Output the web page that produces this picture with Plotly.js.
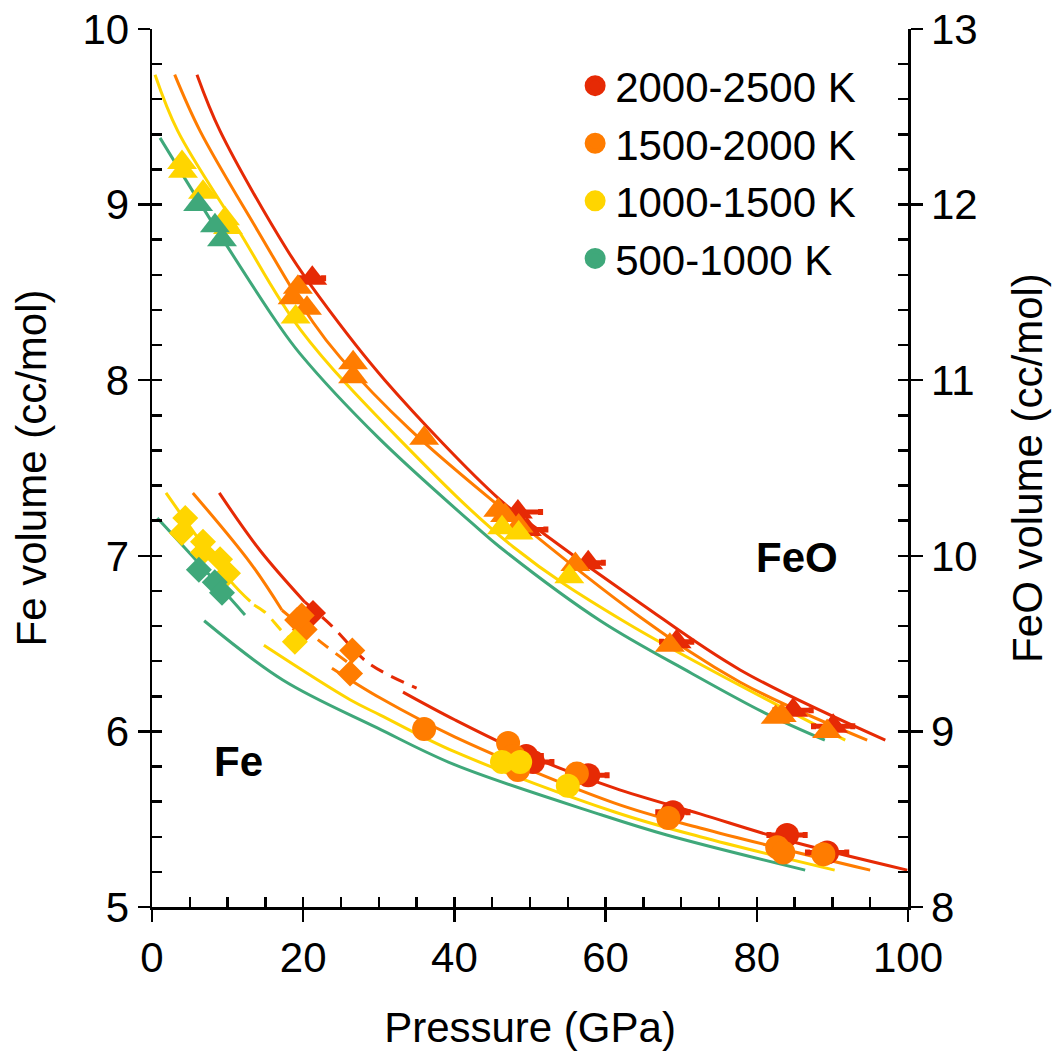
<!DOCTYPE html>
<html><head><meta charset="utf-8">
<script src="https://cdn.plot.ly/plotly-3.0.1.min.js"></script>
<style>html,body{margin:0;padding:0;background:#fff}</style>
</head><body>
<div id="chart" style="width:1055px;height:1063px"></div>
<script>
// ---- labels ----
const tempLabels = ['2000-2500 K', '1500-2000 K', '1000-1500 K', '500-1000 K'];
const xTitle = 'Pressure (GPa)';
const yTitle = 'Fe volume (cc/mol)';
const y2Title = 'FeO volume (cc/mol)';

// ---- FeO isotherms (P GPa, V cc/mol) ----
const feoCurveRedP = [5.95, 9.0, 17.9, 22.2, 30.8, 46.0, 52.0, 64.6, 77.8, 97.0];
const feoCurveRedV = [12.74, 12.42, 11.74, 11.47, 11.0, 10.32, 10.12, 9.73, 9.35, 8.95];
const feoCurveOrangeP = [3.0, 6.35, 14.0, 21.3, 24.9, 34.1, 46.0, 64.6, 77.8, 94.6];
const feoCurveOrangeV = [12.74, 12.42, 11.85, 11.33, 11.13, 10.72, 10.28, 9.65, 9.28, 8.95];
const feoCurveYellowP = [0.4, 3.4, 11.5, 19.6, 32.8, 47.8, 62.3, 91.7];
const feoCurveYellowV = [12.74, 12.42, 11.85, 11.29, 10.66, 10.05, 9.63, 8.95];
const feoCurveGreenP = [1.06, 3.9, 9.4, 16.5, 19.6, 30.0, 43.0, 46.0, 59.3, 71.4, 81.3, 89.0];
const feoCurveGreenV = [12.38, 12.18, 11.80, 11.33, 11.15, 10.67, 10.16, 10.05, 9.63, 9.33, 9.10, 8.95];

// ---- Fe isotherms ----
const feCurveRedLowP = [8.9, 14.3, 20.2];
const feCurveRedLowV = [7.358, 7.03, 6.737];
const feCurveRedDashP = [20.2, 23.8, 28.6, 35.0];
const feCurveRedDashV = [6.737, 6.60, 6.39, 6.247];
const feCurveRedHighP = [33.2, 40.1, 50.0, 61.2, 72.5, 84.0, 99.9];
const feCurveRedHighV = [6.224, 6.065, 5.86, 5.677, 5.53, 5.38, 5.21];
const feCurveOrangeLowP = [5.4, 13.0, 17.2];
const feCurveOrangeLowV = [7.358, 6.96, 6.69];
const feCurveOrangeDashP = [17.2, 22.6, 26.0];
const feCurveOrangeDashV = [6.69, 6.50, 6.39];
const feCurveOrangeHighP = [23.8, 30.2, 40.1, 61.2, 72.5, 95.0];
const feCurveOrangeHighV = [6.36, 6.19, 5.968, 5.592, 5.45, 5.21];
const feCurveYellowLowP = [1.85, 10.3, 13.0];
const feCurveYellowLowV = [7.358, 6.86, 6.74];
const feCurveYellowDashP = [13.5, 14.9, 17.3, 18.5];
const feCurveYellowDashV = [6.72, 6.68, 6.566, 6.52];
const feCurveYellowHighP = [14.8, 26.2, 30.2, 40.1, 61.2, 72.5, 90.3];
const feCurveYellowHighV = [6.49, 6.18, 6.093, 5.883, 5.541, 5.40, 5.21];
const feCurveGreenLowP = [0.7, 6.35, 12.3];
const feCurveGreenLowV = [7.215, 6.95, 6.663];
const feCurveGreenHighP = [6.9, 17.3, 29.8, 40.1, 59.5, 68.1, 86.4];
const feCurveGreenHighV = [6.63, 6.293, 6.02, 5.809, 5.524, 5.41, 5.21];

// ---- FeO measurements (triangles) ----
const feoRedP = [21.2, 48.4, 49.6, 57.7, 69.4, 84.8, 90.1];
const feoRedV = [11.58, 10.25, 10.15, 9.96, 9.51, 9.12, 9.03];
const feoRedErrP = [1.5, 3.0, 2.5, 2.0, 2.0, 2.4, 2.6];
const feoOrangeP = [18.6, 19.3, 20.5, 26.6, 26.6, 36.0, 45.8, 46.7, 48.5, 56.0, 68.5, 82.5, 83.3, 89.3];
const feoOrangeV = [11.47, 11.53, 11.41, 11.10, 11.02, 10.67, 10.26, 10.23, 10.17, 9.95, 9.49, 9.08, 9.09, 9.00];
const feoYellowP = [3.97, 4.1, 6.75, 9.66, 10.05, 19.0, 46.3, 48.5, 55.2];
const feoYellowV = [12.24, 12.19, 12.07, 11.92, 11.87, 11.36, 10.16, 10.13, 9.88];
const feoGreenP = [6.1, 8.33, 9.26];
const feoGreenV = [12.0, 11.88, 11.80];

// ---- Fe measurements: low-P phase (diamonds) ----
const feDiaRedP = [21.3];
const feDiaRedV = [6.674];
const feDiaOrangeP = [19.2, 20.2, 19.8, 26.5, 26.2];
const feDiaOrangeV = [6.634, 6.58, 6.66, 6.46, 6.33];
const feDiaYellowP = [3.95, 4.4, 6.75, 6.75, 9.0, 10.05, 18.9];
const feDiaYellowV = [7.13, 7.215, 7.08, 7.02, 6.98, 6.90, 6.51];
const feDiaGreenP = [6.2, 8.3, 9.26];
const feDiaGreenV = [6.92, 6.85, 6.79];

// ---- Fe measurements: hcp (circles) ----
const feCirRedP = [49.5, 50.4, 57.7, 68.9, 84.0, 89.3];
const feCirRedV = [5.86, 5.826, 5.75, 5.54, 5.41, 5.31];
const feCirRedErrP = [2.0, 2.5, 2.5, 2.0, 2.4, 2.6];
const feCirOrangeP = [36.0, 47.1, 47.8, 48.4, 56.2, 68.3, 82.7, 83.5, 88.8];
const feCirOrangeV = [6.014, 5.934, 5.86, 5.78, 5.76, 5.507, 5.34, 5.31, 5.30];
const feCirYellowP = [46.3, 48.7, 55.0];
const feCirYellowV = [5.826, 5.826, 5.69];

// ---- styles ----
const C = {red: '#E62A05', orange: '#FF7C00', yellow: '#FFD500', green: '#3FA87A'};
const FONT = 'Liberation Sans, Arial, sans-serif';

function curve(P, V, color, yax, dash) {
  return {x: P, y: V, type: 'scatter', mode: 'lines', yaxis: yax,
    line: {color: color, width: 3, shape: 'spline', smoothing: 1, dash: dash || 'solid'},
    showlegend: false, hoverinfo: 'skip'};
}
function marks(P, V, color, symbol, size, yax, errP) {
  const t = {x: P, y: V, type: 'scatter', mode: 'markers', yaxis: yax,
    marker: {color: color, symbol: symbol, size: size, line: {width: 0}},
    showlegend: false, hoverinfo: 'skip'};
  if (errP) t.error_x = {type: 'data', array: errP, visible: true, color: color, thickness: 5, width: 3};
  return t;
}
const DASH = '14px,9px';
const traces = [
  curve(feoCurveRedP, feoCurveRedV, C.red, 'y2'),
  curve(feoCurveOrangeP, feoCurveOrangeV, C.orange, 'y2'),
  curve(feoCurveYellowP, feoCurveYellowV, C.yellow, 'y2'),
  curve(feoCurveGreenP, feoCurveGreenV, C.green, 'y2'),
  curve(feCurveRedLowP, feCurveRedLowV, C.red, 'y'),
  curve(feCurveRedDashP, feCurveRedDashV, C.red, 'y', DASH),
  curve(feCurveRedHighP, feCurveRedHighV, C.red, 'y'),
  curve(feCurveOrangeLowP, feCurveOrangeLowV, C.orange, 'y'),
  curve(feCurveOrangeDashP, feCurveOrangeDashV, C.orange, 'y', DASH),
  curve(feCurveOrangeHighP, feCurveOrangeHighV, C.orange, 'y'),
  curve(feCurveYellowLowP, feCurveYellowLowV, C.yellow, 'y'),
  curve(feCurveYellowDashP, feCurveYellowDashV, C.yellow, 'y', DASH),
  curve(feCurveYellowHighP, feCurveYellowHighV, C.yellow, 'y'),
  curve(feCurveGreenLowP, feCurveGreenLowV, C.green, 'y'),
  curve(feCurveGreenHighP, feCurveGreenHighV, C.green, 'y'),
  // markers: red at the bottom, green on top
  marks(feoRedP, feoRedV, C.red, 'triangle-up', 26, 'y2', feoRedErrP),
  marks(feDiaRedP, feDiaRedV, C.red, 'diamond', 20, 'y'),
  marks(feCirRedP, feCirRedV, C.red, 'circle', 24, 'y', feCirRedErrP),
  marks(feoOrangeP, feoOrangeV, C.orange, 'triangle-up', 26, 'y2'),
  marks(feDiaOrangeP, feDiaOrangeV, C.orange, 'diamond', 20, 'y'),
  marks(feCirOrangeP, feCirOrangeV, C.orange, 'circle', 24, 'y'),
  marks(feoYellowP, feoYellowV, C.yellow, 'triangle-up', 26, 'y2'),
  marks(feDiaYellowP, feDiaYellowV, C.yellow, 'diamond', 20, 'y'),
  marks(feCirYellowP, feCirYellowV, C.yellow, 'circle', 24, 'y'),
  marks(feoGreenP, feoGreenV, C.green, 'triangle-up', 26, 'y2'),
  marks(feDiaGreenP, feDiaGreenV, C.green, 'diamond', 20, 'y'),
  // helpers so the inside-tick overlay axes exist
  {x: [null], y: [null], xaxis: 'x2', yaxis: 'y3', type: 'scatter', mode: 'markers', showlegend: false, hoverinfo: 'skip'},
  {x: [null], y: [null], yaxis: 'y4', type: 'scatter', mode: 'markers', showlegend: false, hoverinfo: 'skip'}
];
// legend entries
[C.red, C.orange, C.yellow, C.green].forEach((col, i) => {
  traces.push({x: [null], y: [null], type: 'scatter', mode: 'markers', name: tempLabels[i],
    marker: {color: col, symbol: 'circle', size: 16, line: {color: col, width: 5}}, showlegend: true, hoverinfo: 'skip'});
});

const tickFont = {family: FONT, size: 42, color: '#000'};
const baseAx = {showgrid: false, zeroline: false, showline: true, linecolor: '#000', linewidth: 2.5,
  ticks: 'outside', ticklen: 12, tickwidth: 2.5, tickcolor: '#000', tickfont: tickFont};
const innerAx = {showgrid: false, zeroline: false, showline: false, ticks: 'inside', ticklen: 10,
  tickwidth: 2.5, tickcolor: '#000', showticklabels: false, fixedrange: true};

const layout = {
  width: 1055, height: 1063,
  margin: {l: 152, r: 147, t: 29, b: 156},
  paper_bgcolor: '#fff', plot_bgcolor: 'rgba(0,0,0,0)',
  font: {family: FONT, color: '#000'},
  showlegend: true,
  legend: {x: 0.5597, y: 0.974, xanchor: 'left', yanchor: 'top', bgcolor: 'rgba(0,0,0,0)',
    font: {family: FONT, size: 42, color: '#000'}, traceorder: 'normal', itemclick: false},
  xaxis: Object.assign({}, baseAx, {range: [0, 100], dtick: 20, tick0: 0,
    title: {text: xTitle, font: {family: FONT, size: 42}, standoff: 33}}),
  xaxis2: Object.assign({}, innerAx, {overlaying: 'x', anchor: 'y', side: 'bottom', range: [0, 100], dtick: 5, tick0: 0}),
  yaxis: Object.assign({}, baseAx, {range: [5, 10], dtick: 1, tick0: 5,
    title: {text: yTitle, font: {family: FONT, size: 42}, standoff: 23}}),
  yaxis2: Object.assign({}, baseAx, {range: [8, 13], dtick: 1, tick0: 8, overlaying: 'y', side: 'right', anchor: 'x',
    title: {text: y2Title, font: {family: FONT, size: 42}, standoff: 36}}),
  yaxis3: Object.assign({}, innerAx, {overlaying: 'y', anchor: 'x', side: 'left', range: [5, 10], dtick: 0.2, tick0: 5}),
  yaxis4: Object.assign({}, innerAx, {overlaying: 'y', anchor: 'x', side: 'right', range: [8, 13], dtick: 0.2, tick0: 8}),
  annotations: [
    {x: 85.3, y: 6.99, xref: 'x', yref: 'y', text: '<b>FeO</b>', showarrow: false,
      font: {family: FONT, size: 42, color: '#000'}},
    {x: 11.4, y: 5.83, xref: 'x', yref: 'y', text: '<b>Fe</b>', showarrow: false,
      font: {family: FONT, size: 42, color: '#000'}}
  ]
};
Plotly.newPlot('chart', traces, layout, {displayModeBar: false, staticPlot: true});
</script>
</body></html>
